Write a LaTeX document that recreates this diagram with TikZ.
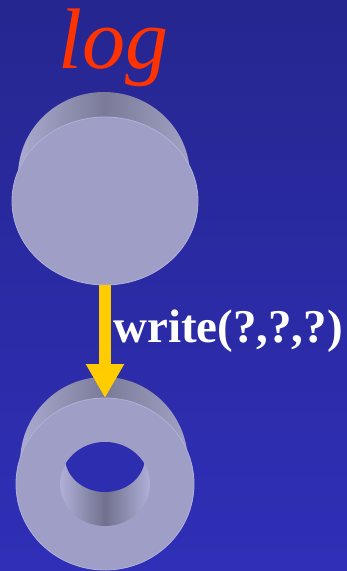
\documentclass[tikz,border=0pt]{standalone}
\usepackage{fontspec}
\setmainfont{Liberation Serif}
\usetikzlibrary{arrows.meta}
\definecolor{bgtop}{HTML}{262690}
\definecolor{bgbot}{HTML}{2F2FB8}
\definecolor{holebg}{HTML}{2D2DB0}
\definecolor{face}{HTML}{9E9EC6}
\definecolor{rim}{HTML}{B0B0D8}
\definecolor{sidelight}{HTML}{AEAED4}
\definecolor{sidedark}{HTML}{7A7A98}
\definecolor{walldark}{HTML}{70708E}
\definecolor{arrowyellow}{HTML}{FFCC00}
\definecolor{titlered}{HTML}{FF3300}
\tikzset{
  sideband/.style={left color=sidelight, right color=sidelight!95!black, middle color=sidedark},
  frontface/.style={fill=face, draw=rim, line width=0.8pt},
  innerwall/.style={left color=rim, right color=rim, middle color=walldark},
  flowarrow/.style={draw=arrowyellow, line width=12pt, -{Triangle[width=36pt,length=34pt]}},
  title/.style={text=titlered, font=\fontsize{86}{90}\selectfont\itshape, inner sep=0pt, anchor=base west},
  oplabel/.style={text=white, font=\fontsize{47}{50}\selectfont\bfseries, inner sep=0pt, anchor=base west}
}
\begin{document}
\begin{tikzpicture}[x=1pt, y=-1pt]
  % background
  \shade[top color=bgtop, bottom color=bgbot] (0,0) rectangle (347,571);
  \useasboundingbox (0,0) rectangle (347,571);

  % title
  \node[title] (logtitle) at (58,68) {log};

  % solid disk: side band, then front face
  \shade[sideband] (12,201) -- (18,176)
    arc[start angle=180, end angle=360, x radius=86, y radius=84]
    -- (198,201)
    arc[start angle=0, end angle=180, x radius=93, y radius=84] -- cycle;
  \path[frontface] (105,201) ellipse[x radius=93, y radius=84];
  \coordinate (diskbottom) at (105,285);

  % ring: side band, front face, hole
  \shade[sideband] (16,484) -- (20,463)
    arc[start angle=180, end angle=360, x radius=84, y radius=86]
    -- (194,484)
    arc[start angle=0, end angle=180, x radius=89, y radius=86] -- cycle;
  \path[frontface] (105,484) ellipse[x radius=89, y radius=86];
  \shade[innerwall] (105,484) ellipse[x radius=45, y radius=42];
  \begin{scope}
    \clip (105,484) ellipse[x radius=45, y radius=42];
    \fill[holebg] (105,457) ellipse[x radius=40, y radius=35];
  \end{scope}
  \coordinate (ringtop) at (105,398);

  % write operation
  \draw[flowarrow] (diskbottom) -- (ringtop);
  \node[oplabel] (writelabel) at (113,342) {write(?,?,?)};
\end{tikzpicture}
\end{document}
